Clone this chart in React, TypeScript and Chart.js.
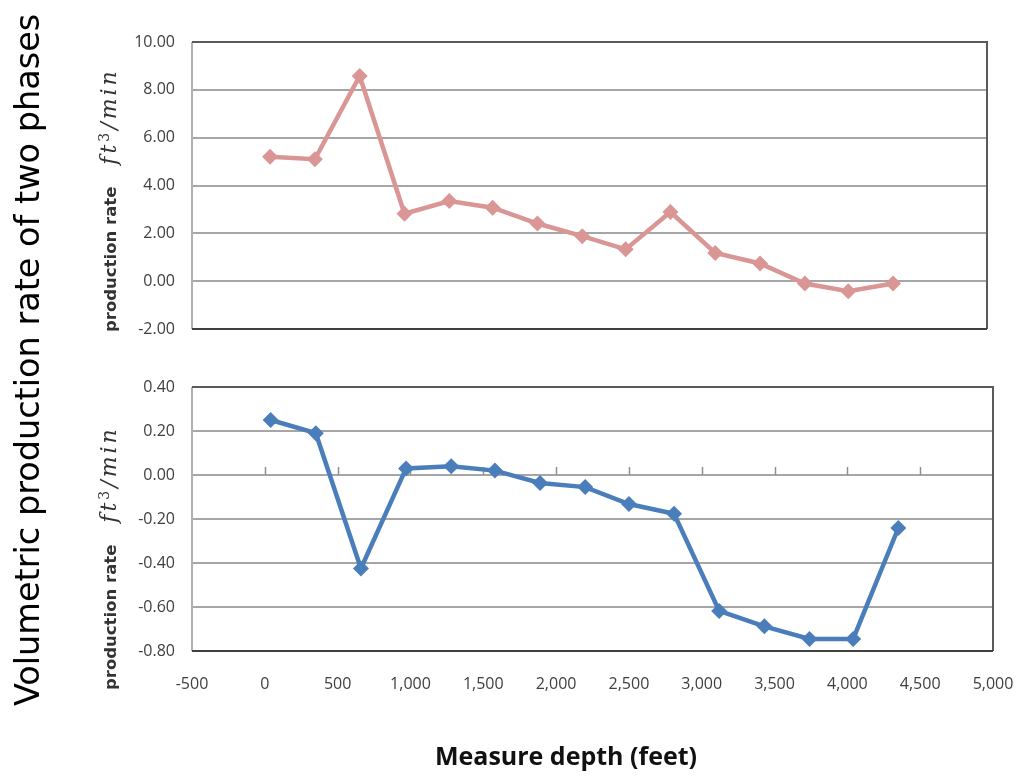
import React, { useEffect, useRef } from "react";
import { Chart, registerables } from "chart.js";

Chart.register(...registerables);

// ---- data ----
const depthFeet = [40, 350, 660, 970, 1280, 1580, 1890, 2200, 2500, 2810, 3120, 3430, 3740, 4040, 4350];
const rateUpper = [5.2, 5.1, 8.58, 2.82, 3.35, 3.07, 2.41, 1.88, 1.33, 2.89, 1.18, 0.74, -0.1, -0.42, -0.1];
const rateLower = [0.25, 0.19, -0.425, 0.03, 0.04, 0.02, -0.036, -0.055, -0.132, -0.176, -0.618, -0.688, -0.745, -0.745, -0.241];

const upperTicks = [-2, 0, 2, 4, 6, 8, 10];
const lowerTicks = [-0.8, -0.6, -0.4, -0.2, 0, 0.2, 0.4];
const depthTicks = [-500, 0, 500, 1000, 1500, 2000, 2500, 3000, 3500, 4000, 4500, 5000];

const mainTitle = "Volumetric production rate of two phases";
const xTitle = "Measure depth (feet)";
const yTitleText = "production rate";

const PINK = "#D99694";
const BLUE = "#4A7EBB";
const GRID = "#a6a6a6";
const TICK_FONT = { family: "'Open Sans', sans-serif", size: 16 };
const TICK_COLOR = "#404040";

const framePlugin = {
  id: "frame",
  beforeDatasetsDraw(chart: any, _args: any, opts: any) {
    const { ctx, chartArea } = chart;
    const { left, right, top, bottom } = chartArea;
    ctx.save();
    ctx.lineWidth = 2;
    ctx.strokeStyle = "#b0b0b0";
    ctx.beginPath();
    ctx.moveTo(left, top);
    ctx.lineTo(left, bottom);
    ctx.stroke();
    ctx.strokeStyle = "#5a5a5a";
    ctx.beginPath();
    ctx.moveTo(left, top);
    ctx.lineTo(right, top);
    ctx.lineTo(right, bottom);
    ctx.stroke();
    ctx.strokeStyle = "#404040";
    ctx.beginPath();
    ctx.moveTo(left, bottom);
    ctx.lineTo(right, bottom);
    ctx.stroke();
    if (opts && opts.zeroTicks) {
      const xs = chart.scales.x;
      const y0 = chart.scales.y.getPixelForValue(0);
      ctx.strokeStyle = "#909090";
      ctx.lineWidth = 1.5;
      depthTicks.forEach((v) => {
        if (v <= xs.min || v >= xs.max) return;
        const px = Math.round(xs.getPixelForValue(v)) + 0.5;
        ctx.beginPath();
        ctx.moveTo(px, y0);
        ctx.lineTo(px, y0 - 8);
        ctx.stroke();
      });
    }
    ctx.restore();
  },
};

function makeConfig(
  values: number[],
  color: string,
  ticks: number[],
  decimals: number,
  showX: boolean,
  padding: any
) {
  const yMin = ticks[0];
  const yMax = ticks[ticks.length - 1];
  return {
    type: "line" as const,
    data: {
      datasets: [
        {
          data: depthFeet.map((x, i) => ({ x, y: values[i] })),
          borderColor: color,
          backgroundColor: color,
          borderWidth: 4.5,
          pointStyle: "rectRot",
          pointRadius: 8,
          pointBorderWidth: 0,
          tension: 0,
          fill: false,
        },
      ],
    },
    options: {
      responsive: false,
      animation: false,
      devicePixelRatio: 1,
      layout: { padding },
      plugins: {
        legend: { display: false },
        tooltip: { enabled: false },
        title: { display: false },
        frame: { zeroTicks: showX },
      },
      scales: {
        x: {
          type: "linear",
          min: depthTicks[0],
          max: depthTicks[depthTicks.length - 1],
          display: showX,
          afterBuildTicks: (s: any) => {
            s.ticks = depthTicks.map((v) => ({ value: v }));
          },
          afterFit: (s: any) => {
            if (showX) s.height = 50;
            s.paddingLeft = 0;
            s.paddingRight = 0;
          },
          grid: { display: false, drawTicks: false },
          border: { display: false },
          ticks: {
            font: TICK_FONT,
            color: TICK_COLOR,
            padding: 24,
            maxRotation: 0,
            autoSkip: false,
            callback: (v: any) => Number(v).toLocaleString("en-US"),
          },
        },
        y: {
          type: "linear",
          min: yMin,
          max: yMax,
          afterBuildTicks: (s: any) => {
            s.ticks = ticks.map((v) => ({ value: v }));
          },
          afterFit: (s: any) => {
            s.width = 192;
            s.paddingTop = 0;
            s.paddingBottom = 0;
          },
          grid: { color: GRID, lineWidth: 2, drawTicks: false },
          border: { display: false },
          ticks: {
            font: TICK_FONT,
            color: TICK_COLOR,
            padding: 17,
            autoSkip: false,
            callback: (v: any) => Number(v).toFixed(decimals),
          },
        },
      },
    },
    plugins: [framePlugin],
  };
}

function LineCanvas(props: {
  values: number[];
  color: string;
  ticks: number[];
  showX: boolean;
  top: number;
  height: number;
  padding: any;
}) {
  const ref = useRef<HTMLCanvasElement | null>(null);
  useEffect(() => {
    if (!ref.current) return;
    const chart = new Chart(
      ref.current,
      makeConfig(props.values, props.color, props.ticks, 2, props.showX, props.padding) as any
    );
    return () => chart.destroy();
  }, []);
  return (
    <canvas
      ref={ref}
      width={1021}
      height={props.height}
      style={{ position: "absolute", left: 0, top: props.top, width: 1021, height: props.height }}
    />
  );
}

function YTitle(props: { x: number; yStart: number }) {
  return (
    <div
      style={{
        position: "absolute",
        left: props.x,
        top: props.yStart,
        transform: "rotate(-90deg)",
        transformOrigin: "left top",
        whiteSpace: "nowrap",
        display: "flex",
        alignItems: "baseline",
        height: 24,
        lineHeight: "24px",
        color: "#333333",
      }}
    >
      <span style={{ fontFamily: "'DejaVu Sans', sans-serif", fontWeight: 700, fontSize: 16.5 }}>{yTitleText}</span>
      <span
        style={{
          fontFamily: "'DejaVu Serif', serif",
          fontStyle: "italic",
          fontSize: 22,
          marginLeft: 22,
          letterSpacing: 3,
        }}
      >
        ft<sup style={{ fontSize: 14, fontStyle: "normal", verticalAlign: "7px" }}>3</sup>/min
      </span>
    </div>
  );
}

export default function App() {
  return (
    <div
      style={{
        position: "absolute",
        left: 0,
        top: 0,
        width: 1021,
        height: 776,
        background: "#ffffff",
        overflow: "hidden",
      }}
    >
      <LineCanvas
        values={rateUpper}
        color={PINK}
        ticks={upperTicks}
        showX={false}
        top={0}
        height={345}
        padding={{ left: 0, top: 42, right: 34, bottom: 16 }}
      />
      <LineCanvas
        values={rateLower}
        color={BLUE}
        ticks={lowerTicks}
        showX={true}
        top={350}
        height={426}
        padding={{ left: 0, top: 37, right: 28, bottom: 75 }}
      />
      <YTitle x={92} yStart={332} />
      <YTitle x={92} yStart={690} />
      <div
        style={{
          position: "absolute",
          left: 10,
          top: 706,
          transform: "rotate(-90deg)",
          transformOrigin: "left top",
          whiteSpace: "nowrap",
          fontFamily: "'DejaVu Sans', sans-serif",
          fontSize: 33.5,
          lineHeight: "36px",
          color: "#000",
        }}
      >
        {mainTitle}
      </div>
      <div
        style={{
          position: "absolute",
          left: 566,
          top: 755,
          transform: "translate(-50%, -50%)",
          whiteSpace: "nowrap",
          fontFamily: "'Open Sans', sans-serif",
          fontWeight: 700,
          fontSize: 25,
          color: "#111",
        }}
      >
        {xTitle}
      </div>
    </div>
  );
}
